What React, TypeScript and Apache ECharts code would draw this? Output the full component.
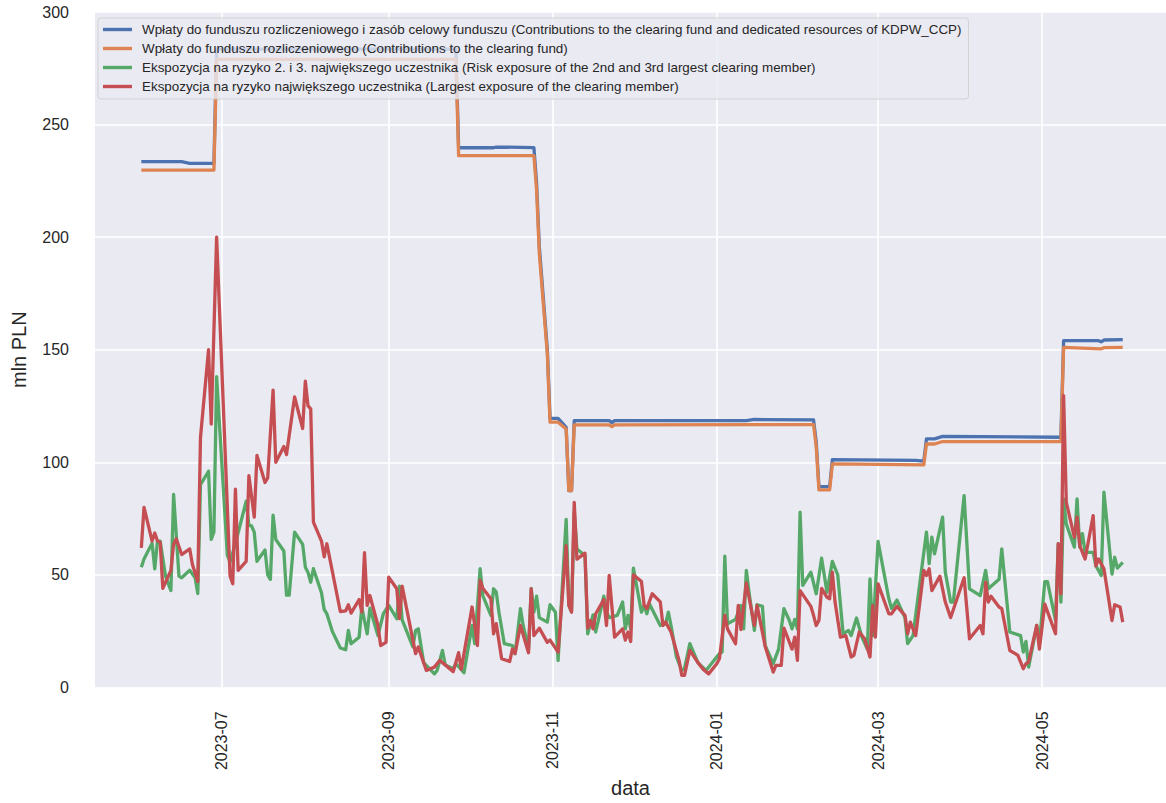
import { useEffect, useRef } from 'react';
import * as echarts from 'echarts';

// ---------- data ----------
const seriesNames = [
  'Wpłaty do funduszu rozliczeniowego i zasób celowy funduszu (Contributions to the clearing fund and dedicated resources of KDPW_CCP)',
  'Wpłaty do funduszu rozliczeniowego (Contributions to the clearing fund)',
  'Ekspozycja na ryzyko 2. i 3. największego uczestnika (Risk exposure of the 2nd and 3rd largest clearing member)',
  'Ekspozycja na ryzyko największego uczestnika (Largest exposure of the clearing member)',
];

const totalDates = [
  '2023-06-01', '2023-06-16', '2023-06-19', '2023-06-28', '2023-06-29', '2023-09-26', '2023-09-27', '2023-10-10',
  '2023-10-11', '2023-10-25', '2023-10-26', '2023-10-27', '2023-10-30', '2023-10-31', '2023-11-03', '2023-11-06',
  '2023-11-07', '2023-11-08', '2023-11-09', '2023-11-22', '2023-11-23', '2023-11-24', '2024-01-12', '2024-01-15',
  '2024-02-06', '2024-02-07', '2024-02-08', '2024-02-12', '2024-02-13', '2024-03-15', '2024-03-18', '2024-03-19',
  '2024-03-22', '2024-03-25', '2024-05-08', '2024-05-09', '2024-05-22', '2024-05-23', '2024-05-24', '2024-05-31',
];
const totalValues = [
  233.5, 233.5, 232.8, 232.8, 283.5, 283.5, 239.7, 239.7,
  240, 239.8, 224, 196, 150, 119.5, 119.5, 115.5,
  87.4, 87.4, 118.5, 118.5, 117.6, 118.5, 118.5, 119,
  118.8, 109, 89.2, 89.2, 101.2, 100.8, 100.5, 110.4,
  110.4, 111.5, 111.1, 154, 154, 153.5, 154.3, 154.5,
];

const fundDates = [
  '2023-06-01', '2023-06-28', '2023-06-29', '2023-09-26', '2023-09-27', '2023-10-25', '2023-10-26', '2023-10-27',
  '2023-10-30', '2023-10-31', '2023-11-03', '2023-11-06', '2023-11-07', '2023-11-08', '2023-11-09', '2023-11-22',
  '2023-11-23', '2023-11-24', '2024-02-06', '2024-02-07', '2024-02-08', '2024-02-12', '2024-02-13', '2024-03-18',
  '2024-03-19', '2024-03-22', '2024-03-25', '2024-05-08', '2024-05-09', '2024-05-23', '2024-05-24', '2024-05-31',
];
const fundValues = [
  229.8, 229.8, 279, 279, 236.2, 236.2, 221, 193,
  148, 117.8, 117.8, 114.8, 87.4, 87.4, 116.6, 116.6,
  115.8, 116.6, 116.7, 107, 87.7, 87.7, 99.3, 98.8,
  108.1, 108.1, 109.2, 109.2, 151, 150.4, 150.9, 151,
];

const secondThirdDates = [
  '2023-06-01', '2023-06-02', '2023-06-05', '2023-06-06', '2023-06-07', '2023-06-08', '2023-06-10', '2023-06-12',
  '2023-06-13', '2023-06-15', '2023-06-16', '2023-06-19', '2023-06-21', '2023-06-22', '2023-06-23', '2023-06-26',
  '2023-06-27', '2023-06-28', '2023-06-29', '2023-07-03', '2023-07-04', '2023-07-06', '2023-07-10', '2023-07-11',
  '2023-07-12', '2023-07-13', '2023-07-14', '2023-07-17', '2023-07-18', '2023-07-19', '2023-07-20', '2023-07-21',
  '2023-07-24', '2023-07-25', '2023-07-26', '2023-07-28', '2023-07-31', '2023-08-01', '2023-08-02', '2023-08-03',
  '2023-08-04', '2023-08-07', '2023-08-08', '2023-08-09', '2023-08-11', '2023-08-14', '2023-08-16', '2023-08-17',
  '2023-08-18', '2023-08-21', '2023-08-22', '2023-08-24', '2023-08-25', '2023-08-28', '2023-08-30', '2023-09-01',
  '2023-09-04', '2023-09-05', '2023-09-06', '2023-09-10', '2023-09-11', '2023-09-12', '2023-09-14', '2023-09-18',
  '2023-09-19', '2023-09-21', '2023-09-22', '2023-09-25', '2023-09-26', '2023-09-29', '2023-10-02', '2023-10-03',
  '2023-10-05', '2023-10-06', '2023-10-09', '2023-10-10', '2023-10-11', '2023-10-12', '2023-10-14', '2023-10-17',
  '2023-10-18', '2023-10-20', '2023-10-21', '2023-10-23', '2023-10-24', '2023-10-25', '2023-10-26', '2023-10-27',
  '2023-10-30', '2023-10-31', '2023-11-02', '2023-11-03', '2023-11-06', '2023-11-07', '2023-11-08', '2023-11-09',
  '2023-11-10', '2023-11-13', '2023-11-14', '2023-11-16', '2023-11-17', '2023-11-20', '2023-11-21', '2023-11-22',
  '2023-11-25', '2023-11-27', '2023-11-28', '2023-11-29', '2023-11-30', '2023-12-01', '2023-12-04', '2023-12-05',
  '2023-12-06', '2023-12-07', '2023-12-11', '2023-12-13', '2023-12-14', '2023-12-15', '2023-12-17', '2023-12-19',
  '2023-12-20', '2023-12-22', '2023-12-25', '2023-12-28', '2023-12-30', '2024-01-02', '2024-01-03', '2024-01-04',
  '2024-01-05', '2024-01-08', '2024-01-10', '2024-01-11', '2024-01-12', '2024-01-13', '2024-01-15', '2024-01-16',
  '2024-01-18', '2024-01-19', '2024-01-22', '2024-01-24', '2024-01-26', '2024-01-28', '2024-01-29', '2024-01-30',
  '2024-01-31', '2024-02-01', '2024-02-02', '2024-02-05', '2024-02-07', '2024-02-09', '2024-02-11', '2024-02-13',
  '2024-02-15', '2024-02-17', '2024-02-19', '2024-02-20', '2024-02-22', '2024-02-24', '2024-02-26', '2024-02-27',
  '2024-02-28', '2024-03-01', '2024-03-05', '2024-03-06', '2024-03-08', '2024-03-11', '2024-03-12', '2024-03-14',
  '2024-03-19', '2024-03-20', '2024-03-21', '2024-03-22', '2024-03-25', '2024-03-26', '2024-03-28', '2024-03-29',
  '2024-04-02', '2024-04-04', '2024-04-08', '2024-04-10', '2024-04-11', '2024-04-15', '2024-04-16', '2024-04-19',
  '2024-04-23', '2024-04-24', '2024-04-25', '2024-04-26', '2024-04-29', '2024-04-30', '2024-05-02', '2024-05-03',
  '2024-05-06', '2024-05-07', '2024-05-08', '2024-05-09', '2024-05-10', '2024-05-13', '2024-05-14', '2024-05-15',
  '2024-05-16', '2024-05-17', '2024-05-20', '2024-05-21', '2024-05-23', '2024-05-24', '2024-05-27', '2024-05-28',
  '2024-05-29', '2024-05-31',
];
const secondThirdValues = [
  53.4, 57, 64, 52.6, 65, 65, 49.4, 43,
  85.7, 49.4, 48.7, 52, 48.7, 41.7, 90, 96,
  65.7, 69, 138, 58.6, 55.7, 64, 82.7, 72,
  71.7, 69, 56, 61, 50, 48, 76.5, 65.7,
  60.6, 41, 41, 69, 63.5, 53.4, 51, 46.7,
  52.7, 42, 34.6, 32.7, 25, 17.5, 16.7, 25.3,
  19.4, 22.3, 35.6, 23.8, 35.2, 23, 32.7, 36.4,
  30.5, 45, 30, 18, 25.3, 26, 11, 6,
  7.5, 16.4, 10, 8.3, 10.5, 6.5, 27.5, 19.4,
  52.7, 40.8, 32, 43.8, 42.3, 33.4, 19.4, 18.6,
  15, 35, 27.5, 17, 44, 33.4, 40.5, 31,
  29, 36.7, 33.4, 12, 74.6, 36.4, 33.7, 78,
  61.5, 58.6, 23.8, 32.2, 24.6, 40.5, 33.4, 31,
  32, 37.9, 26, 32, 26, 53, 33.4, 36.4,
  32.7, 37, 27.5, 28.3, 33.4, 27.5, 13.5, 7.5,
  8.3, 19.4, 11, 7.5, 10.5, 15, 15.7, 58.3,
  28.3, 30.2, 36.4, 26, 52, 42.3, 25.3, 36.7,
  36, 18.6, 10.5, 17, 35, 29.7, 26, 30.2,
  26, 77.8, 45.3, 51.2, 41.6, 57.4, 42.3, 56,
  50, 23.8, 25.3, 23, 30.8, 22.3, 17, 48.2,
  23, 64.8, 39.4, 35, 38.8, 31, 19.4, 23,
  69, 55, 66.7, 59.3, 75.6, 51.2, 37.9, 37.9,
  85.2, 43.8, 40.8, 52, 43.8, 48, 61.5, 24.6,
  23, 15.7, 20.4, 9, 27.5, 19.4, 47, 47,
  29.7, 63.8, 37.9, 83.7, 72.6, 62.3, 83.7, 62.3,
  68.3, 60, 60, 54, 49.7, 86.7, 50.3, 57.8,
  53, 55.5,
];

const largestDates = [
  '2023-06-01', '2023-06-02', '2023-06-05', '2023-06-06', '2023-06-07', '2023-06-08', '2023-06-09', '2023-06-12',
  '2023-06-13', '2023-06-14', '2023-06-16', '2023-06-19', '2023-06-20', '2023-06-22', '2023-06-23', '2023-06-26',
  '2023-06-27', '2023-06-29', '2023-07-04', '2023-07-05', '2023-07-06', '2023-07-07', '2023-07-10', '2023-07-11',
  '2023-07-13', '2023-07-14', '2023-07-17', '2023-07-18', '2023-07-20', '2023-07-21', '2023-07-24', '2023-07-25',
  '2023-07-28', '2023-07-31', '2023-08-01', '2023-08-02', '2023-08-03', '2023-08-04', '2023-08-07', '2023-08-08',
  '2023-08-09', '2023-08-14', '2023-08-16', '2023-08-17', '2023-08-18', '2023-08-21', '2023-08-22', '2023-08-23',
  '2023-08-24', '2023-08-25', '2023-08-28', '2023-08-29', '2023-08-31', '2023-09-01', '2023-09-04', '2023-09-05',
  '2023-09-06', '2023-09-11', '2023-09-12', '2023-09-15', '2023-09-18', '2023-09-20', '2023-09-22', '2023-09-25',
  '2023-09-27', '2023-09-28', '2023-10-02', '2023-10-03', '2023-10-04', '2023-10-05', '2023-10-06', '2023-10-09',
  '2023-10-10', '2023-10-11', '2023-10-13', '2023-10-16', '2023-10-17', '2023-10-18', '2023-10-20', '2023-10-23',
  '2023-10-24', '2023-10-25', '2023-10-27', '2023-10-30', '2023-10-31', '2023-11-03', '2023-11-06', '2023-11-07',
  '2023-11-08', '2023-11-09', '2023-11-10', '2023-11-13', '2023-11-14', '2023-11-15', '2023-11-16', '2023-11-17',
  '2023-11-20', '2023-11-21', '2023-11-22', '2023-11-24', '2023-11-27', '2023-11-28', '2023-11-29', '2023-11-30',
  '2023-12-01', '2023-12-04', '2023-12-05', '2023-12-06', '2023-12-08', '2023-12-11', '2023-12-12', '2023-12-13',
  '2023-12-15', '2023-12-18', '2023-12-19', '2023-12-20', '2023-12-22', '2023-12-25', '2023-12-27', '2023-12-29',
  '2024-01-01', '2024-01-02', '2024-01-04', '2024-01-05', '2024-01-08', '2024-01-09', '2024-01-10', '2024-01-12',
  '2024-01-15', '2024-01-16', '2024-01-19', '2024-01-22', '2024-01-23', '2024-01-25', '2024-01-26', '2024-01-29',
  '2024-01-30', '2024-01-31', '2024-02-01', '2024-02-05', '2024-02-06', '2024-02-07', '2024-02-08', '2024-02-09',
  '2024-02-11', '2024-02-12', '2024-02-13', '2024-02-14', '2024-02-16', '2024-02-18', '2024-02-20', '2024-02-21',
  '2024-02-23', '2024-02-25', '2024-02-27', '2024-02-28', '2024-02-29', '2024-03-01', '2024-03-05', '2024-03-06',
  '2024-03-08', '2024-03-11', '2024-03-12', '2024-03-13', '2024-03-15', '2024-03-18', '2024-03-19', '2024-03-20',
  '2024-03-21', '2024-03-24', '2024-03-26', '2024-03-28', '2024-04-02', '2024-04-04', '2024-04-08', '2024-04-09',
  '2024-04-10', '2024-04-11', '2024-04-12', '2024-04-15', '2024-04-16', '2024-04-19', '2024-04-21', '2024-04-22',
  '2024-04-24', '2024-04-25', '2024-04-26', '2024-04-29', '2024-04-30', '2024-05-02', '2024-05-06', '2024-05-07',
  '2024-05-08', '2024-05-09', '2024-05-10', '2024-05-13', '2024-05-14', '2024-05-15', '2024-05-17', '2024-05-20',
  '2024-05-21', '2024-05-22', '2024-05-24', '2024-05-27', '2024-05-28', '2024-05-30', '2024-05-31',
];
const largestValues = [
  62, 80, 65, 68.6, 65, 64.5, 44, 52,
  63.5, 66, 59, 61.5, 54.6, 47, 111, 150,
  117, 200, 49.5, 46, 88, 52, 56, 94,
  75.6, 103, 91, 93, 132, 100, 107, 103.4,
  129, 115, 136, 125, 123.7, 73.4, 65, 58,
  63.8, 33.7, 34, 36.7, 33, 39, 33.4, 59.8,
  36.4, 40.8, 27.5, 18.6, 20, 49, 43.8, 30.5,
  45, 15, 18, 7.5, 9, 12, 10, 7,
  15.4, 8, 35.7, 27.5, 18.6, 47.5, 44, 39.4,
  23.8, 28.3, 12.7, 11.5, 17, 15, 27.5, 15.4,
  43.8, 23, 26.3, 20, 21, 15.7, 63, 36.4,
  33.4, 82.2, 57, 59.6, 26.3, 29.7, 26, 32.7,
  39, 27.5, 49.7, 22.3, 26, 21, 24.6, 20.4,
  50, 47, 36.5, 35, 41.6, 38, 27.5, 29,
  24.6, 12, 5.3, 5.3, 16.4, 11, 8, 6,
  10.5, 12.7, 32, 26, 19.4, 36.4, 25.7, 46.4,
  27.5, 36.4, 18.3, 6.8, 9.8, 9.8, 26.3, 17,
  22.3, 12, 43, 36, 32, 27.5, 29.7, 44,
  40, 39.4, 51.2, 37.9, 22.3, 23, 13.5, 14.2,
  24.6, 21.6, 13.5, 36.4, 22.3, 46, 32.7, 32.7,
  36, 32, 23.8, 29, 23, 52, 49.7, 52.7,
  43, 49.4, 37.9, 31, 48.7, 21.6, 27.5, 23.8,
  46.7, 37.9, 40.5, 35.7, 35, 16.4, 15, 14.2,
  8.3, 10.5, 11.3, 27.5, 17, 37, 23.8, 63.8,
  41.6, 129.6, 82.2, 66.7, 75.6, 63, 57, 76.3,
  54, 57, 52.7, 29.7, 36.7, 35.7, 29,
];

const xTickLabels = ['2023-07', '2023-09', '2023-11', '2024-01', '2024-03', '2024-05'];
const xRange = ['2023-05-14T18:30:00Z', '2024-06-16T02:00:00Z'];
const yRange = [0, 300];
const yStep = 50;

const colors = ['#4C72B0', '#DD8452', '#55A868', '#C44E52'];

// ---------- helpers ----------
const toTs = (d: string) => Date.parse(d.length === 10 ? d + 'T00:00:00Z' : d);
const pairs = (dates: string[], values: number[]) => dates.map((d, i) => [toTs(d), values[i]]);
const fmtMonth = (v: number) => {
  const d = new Date(v);
  return d.getUTCFullYear() + '-' + String(d.getUTCMonth() + 1).padStart(2, '0');
};

const FONT = '"Liberation Sans", Arial, Helvetica, sans-serif';

export default function App() {
  const ref = useRef<HTMLDivElement>(null);

  useEffect(() => {
    if (!ref.current) return;
    const chart = echarts.init(ref.current, undefined, { renderer: 'svg' });
    const tickTs = xTickLabels.map((m) => toTs(m + '-01'));
    const dataSets = [
      pairs(totalDates, totalValues),
      pairs(fundDates, fundValues),
      pairs(secondThirdDates, secondThirdValues),
      pairs(largestDates, largestValues),
    ];

    chart.setOption({
      animation: false,
      backgroundColor: '#ffffff',
      textStyle: { fontFamily: FONT },
      grid: {
        left: 95,
        right: 0,
        top: 12,
        bottom: 114,
        show: true,
        backgroundColor: '#EAEAF2',
        borderWidth: 0,
        containLabel: false,
      },
      legend: {
        data: seriesNames,
        orient: 'vertical',
        left: 98,
        top: 18,
        padding: [4, 7, 5, 5],
        itemGap: 4,
        itemWidth: 29,
        itemHeight: 3.4,
        icon: 'rect',
        backgroundColor: 'rgba(234,234,242,0.8)',
        borderColor: 'rgba(204,204,204,0.8)',
        borderWidth: 1,
        borderRadius: 3,
        textStyle: {
          fontFamily: FONT,
          fontSize: 13.4,
          lineHeight: 15,
          color: '#262626',
          padding: [0, 0, 0, 5],
        },
      },
      xAxis: {
        type: 'value',
        min: toTs(xRange[0]),
        max: toTs(xRange[1]),
        name: 'data',
        nameLocation: 'middle',
        nameGap: 88,
        nameTextStyle: { fontFamily: FONT, fontSize: 20, color: '#262626' },
        axisLine: { show: false },
        axisTick: { show: false, customValues: tickTs },
        axisLabel: {
          customValues: tickTs,
          rotate: 90,
          margin: 24,
          fontSize: 16,
          color: '#262626',
          fontFamily: FONT,
          formatter: (v: number) => fmtMonth(v),
        },
        splitLine: { show: true, lineStyle: { color: '#ffffff', width: 1.6 } },
      },
      yAxis: {
        type: 'value',
        min: yRange[0],
        max: yRange[1],
        interval: yStep,
        name: 'mln PLN',
        nameLocation: 'middle',
        nameGap: 66,
        nameTextStyle: { fontFamily: FONT, fontSize: 20, color: '#262626' },
        axisLine: { show: false },
        axisTick: { show: false },
        axisLabel: { fontSize: 16, color: '#262626', margin: 26, fontFamily: FONT },
        splitLine: { show: true, lineStyle: { color: '#ffffff', width: 1.6 } },
      },
      series: seriesNames.map((name, i) => ({
        name,
        type: 'line',
        data: dataSets[i],
        showSymbol: false,
        symbol: 'none',
        color: colors[i],
        lineStyle: { width: 3.3, color: colors[i], join: 'round', cap: 'butt' },
        z: 2 + i,
      })),
    });

    return () => chart.dispose();
  }, []);

  return (
    <div
      ref={ref}
      style={{ position: 'absolute', left: 0, top: 0, width: 1166, height: 803 }}
    />
  );
}
